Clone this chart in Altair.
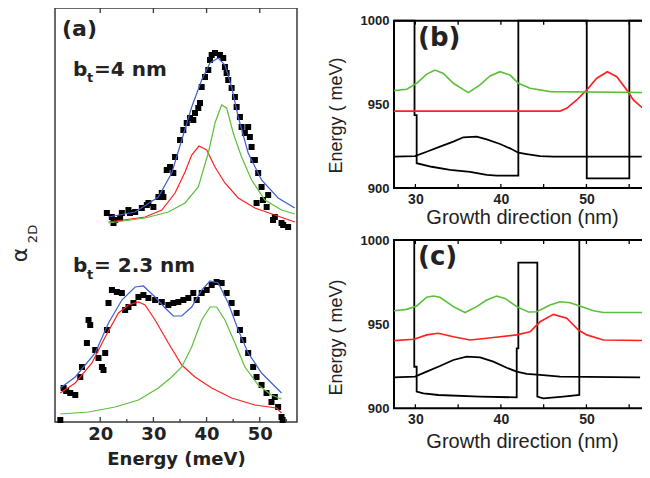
import altair as alt
import pandas as pd

# ---------------- Panel (a): absorption spectra (a.u.) ----------------
# b_t = 4 nm : measured points
a4_pts_E = [21.25, 22.19, 22.5, 22.81, 23.75, 24.07, 25.31, 25.6, 26.57, 27.82, 28.76, 29.06, 30.0,
            30.94, 31.58, 31.88, 32.51, 33.13, 33.75, 34.07, 35.01, 35.63, 36.27, 36.89, 37.5,
            37.82, 38.44, 38.76, 39.08, 39.7, 40.32, 40.64, 40.96, 41.58, 42.51, 43.13, 43.45,
            43.77, 44.07, 44.71, 45.33, 45.65, 46.27, 46.58, 47.2, 47.82, 48.14, 48.46, 48.8,
            49.08, 49.4, 49.7, 50.34, 50.6, 51.3, 51.58, 52.5, 52.83, 54.09, 54.4, 55.33]
a4_pts_v = [209, 205, 199, 202, 204, 209, 212, 209, 210, 214, 217, 219, 215,
            225, 229, 225, 252, 255, 249, 265, 282, 292, 299, 304, 302,
            309, 314, 319, 335, 345, 352, 362, 367, 369, 367, 364, 355,
            349, 342, 334, 325, 315, 305, 295, 289, 295, 285, 275, 262,
            262, 219, 249, 235, 222, 215, 227, 202, 205, 199, 197, 195]
# b_t = 4 nm : fitted peaks and their sum
a4_red_E = [21.56, 28.44, 31.58, 34.07, 35.95, 37.2, 38.57, 40.02, 41.58, 43.45, 45.95, 49.08, 52.83, 56.59]
a4_red_v = [200, 205, 212, 229, 250, 267, 276, 272, 255, 239, 224, 214, 207, 200]
a4_green_E = [21.56, 28.44, 32.81, 35.95, 38.44, 40.32, 41.58, 42.83, 43.77, 45.01, 46.58, 48.46, 50.96, 54.09, 56.59]
a4_green_v = [199, 204, 210, 219, 235, 269, 299, 317, 314, 289, 265, 242, 222, 212, 208]
a4_blue_E = [21.56, 26.57, 30.94, 33.45, 35.33, 37.2, 39.08, 40.64, 42.19, 43.45, 44.71, 45.95, 47.82, 50.34, 53.45, 56.59]
a4_blue_v = [205, 210, 225, 249, 282, 315, 342, 359, 364, 357, 335, 305, 269, 242, 224, 214]

# b_t = 2.3 nm : measured points
a23_pts_E = [12.5, 13.12, 13.6, 14.37, 15.31, 16.25, 16.57, 17.5, 17.81, 18.12, 19.06, 19.68, 20.32,
             20.62, 20.94, 21.26, 21.56, 22.2, 23.13, 24.07, 24.69, 25.31, 26.25, 27.19, 28.12,
             29.06, 30.32, 31.58, 32.81, 33.75, 34.69, 35.63, 36.57, 37.5, 38.14, 39.08, 40.02,
             40.96, 41.89, 42.83, 43.77, 44.71, 45.65, 46.27, 46.88, 47.82, 48.76, 49.39, 50.34,
             51.27, 52.2, 52.83, 53.45, 54.09, 54.3]
a23_pts_v = [2, 34, 31, 29, 27, 45, 55, 79, 102, 97, 72, 64, 55,
             52, 69, 92, 119, 132, 130, 129, 112, 115, 119, 125, 127,
             124, 122, 120, 117, 119, 120, 122, 124, 129, 122, 129, 132,
             137, 140, 139, 129, 119, 109, 92, 82, 69, 55, 45, 37,
             29, 20, 25, 15, 5, 2]
# b_t = 2.3 nm : fitted peaks and their sum
a23_red_E = [12.5, 15.31, 18.44, 20.94, 23.43, 25.31, 27.19, 28.44, 30.32, 32.81, 35.33, 37.82, 40.96, 44.71, 49.08, 53.15, 54.09]
a23_red_v = [29, 39, 59, 85, 109, 117, 120, 117, 102, 79, 57, 45, 34, 24, 17, 14, 9]
a23_green_E = [12.5, 17.81, 22.81, 27.19, 30.94, 33.45, 35.33, 37.2, 39.08, 40.64, 41.89, 43.45, 45.33, 47.2, 49.7, 52.2, 54.09]
a23_green_v = [8, 10, 15, 22, 34, 45, 55, 75, 102, 115, 115, 102, 79, 55, 37, 27, 23]
a23_blue_E = [12.5, 15.31, 19.06, 21.56, 24.07, 26.57, 28.12, 30.32, 32.2, 33.75, 35.33, 37.2, 39.08, 40.64, 42.19, 44.07, 45.95, 47.82, 50.34, 54.09]
a23_blue_v = [34, 45, 69, 99, 122, 135, 136, 125, 114, 106, 106, 115, 132, 141, 139, 119, 92, 69, 49, 29]

a_ticks_major = [20, 30, 40, 50]
a_ticks_minor = [25, 35, 45, 55]

# ---------------- Panel (b): b_t = 4 nm band profile (meV vs nm) ----------------
b_prof_z = [27.5, 29.9, 29.9, 30.15, 30.15, 31.9, 34.05, 36.39, 38.34, 39.51, 42.04, 42.04,
            50.04, 50.04, 55.02, 55.02, 57.6]
b_prof_e = [1000, 1000, 943.6, 943.6, 914.8, 912.7, 910.8, 909.7, 907.8, 907.4, 907.4, 1000,
            1000, 905.8, 905.8, 1000, 1000]
b_gs_z = [27.5, 29.96, 31.32, 32.88, 34.44, 35.61, 37.17, 38.34, 39.9, 41.07, 42.04, 43.02, 44.58, 46.14, 56.47]
b_gs_e = [918.7, 919.1, 921.7, 924.7, 927.7, 930.3, 930.7, 929.1, 926.3, 923.7, 921.1, 920.3, 919.1, 918.7, 918.7]
b_red_z = [27.5, 46.92, 47.7, 48.87, 50.04, 51.21, 52.45, 53.55, 54.72, 55.49, 56.47, 57.44]
b_red_e = [946.0, 946.0, 947.6, 952.6, 958.6, 965.6, 969.5, 966.5, 958.6, 952.6, 948.2, 946.0]
b_green_z = [27.5, 28.98, 30.15, 31.32, 32.3, 33.27, 34.44, 36.19, 37.56, 38.73, 39.9, 41.07, 42.04, 43.41, 45.75, 57.44]
b_green_e = [958.2, 959.0, 962.6, 968.1, 970.5, 968.5, 962.6, 957.0, 961.6, 967.0, 969.5, 967.5, 962.6, 959.6, 957.6, 957.0]

# ---------------- Panel (c): b_t = 2.3 nm band profile ----------------
c_prof_z = [27.5, 29.87, 29.87, 30.15, 30.15, 30.93, 32.68, 37.56, 41.85, 41.85, 42.04, 42.04,
            44.26, 44.26, 44.96, 47.3, 49.17, 49.17, 57.6]
c_prof_e = [1000, 1000, 924.7, 924.7, 909.9, 908.9, 907.9, 906.9, 906.5, 935.6, 935.6, 986.5,
            986.5, 906.9, 905.9, 906.9, 907.9, 1000, 1000]
c_gs_z = [27.5, 29.96, 31.32, 32.88, 34.44, 36.0, 37.56, 39.12, 40.68, 41.85, 43.02, 44.58, 46.92, 56.28]
c_gs_e = [918.4, 918.8, 921.8, 925.1, 928.7, 930.7, 930.3, 927.7, 924.1, 921.8, 920.4, 919.8, 918.8, 918.4]
c_red_z = [27.5, 29.86, 31.32, 32.68, 34.44, 36.39, 38.34, 39.9, 41.85, 43.41, 44.58, 46.14, 47.7, 49.07, 50.04, 51.99, 57.44]
c_red_e = [940.2, 941.0, 943.6, 944.6, 942.5, 940.6, 941.6, 942.5, 943.6, 945.5, 951.4, 955.8, 953.5, 946.5, 943.6, 940.6, 940.2]
c_green_z = [27.5, 28.98, 30.15, 31.32, 32.1, 32.88, 34.44, 35.81, 37.17, 38.34, 39.51, 40.49, 41.85,
             43.22, 44.19, 45.75, 46.92, 48.09, 49.65, 50.82, 51.99, 57.44]
c_green_e = [958.0, 958.8, 960.8, 966.0, 966.7, 966.0, 960.4, 956.9, 960.4, 964.3, 966.7, 965.3, 960.4,
             957.2, 957.4, 961.4, 963.3, 962.7, 960.0, 958.0, 956.9, 956.9]

bc_ticks = [30, 35, 40, 45, 50, 55]

RED, GREEN, BLUE, INK = "#ff2020", "#5cbf3c", "#3f5fc8", "#222222"
W, H = 634, 461


def long(curves, xn, yn):
    rows = []
    for name, (xs, ys) in curves.items():
        for i, (x, y) in enumerate(zip(xs, ys)):
            rows.append({xn: x, yn: y, "curve": name, "i": i})
    return pd.DataFrame(rows)


def label(txt, x, y, size, weight="bold", font="DejaVu Sans", angle=0, align="left", baseline="alphabetic"):
    kw = dict(font=font, fontSize=size, fontWeight=weight, color=INK, align=align, baseline=baseline)
    if angle:
        kw["angle"] = angle
    return alt.Chart(pd.DataFrame({"t": [txt]})).mark_text(**kw).encode(
        x=alt.value(x), y=alt.value(y), text="t:N")


# ---------------- panel (a) ----------------
xa_dom = [11.5, 57.0]
ya_dom = [0, 414]
xA = alt.X("E:Q", scale=alt.Scale(domain=xa_dom, range=[47, 289], nice=False, zero=False),
           axis=alt.Axis(orient="bottom", offset=414 - H, values=a_ticks_major, domain=False, ticks=False,
                         tickSize=0, grid=False, labelPadding=3, labelFont="DejaVu Sans",
                         labelFontWeight="bold", labelFontSize=18, labelColor=INK, labelFlush=False,
                         title="Energy (meV)", titleFont="DejaVu Sans", titleFontWeight="bold",
                         titleFontSize=18, titleColor=INK, titleY=42, titleBaseline="alphabetic"))
yA = alt.Y("v:Q", scale=alt.Scale(domain=ya_dom, range=[414, 0], nice=False, zero=False), axis=None)

a_curves = long({"s4": (a4_blue_E, a4_blue_v), "r4": (a4_red_E, a4_red_v), "g4": (a4_green_E, a4_green_v),
                 "s23": (a23_blue_E, a23_blue_v), "r23": (a23_red_E, a23_red_v),
                 "g23": (a23_green_E, a23_green_v)}, "E", "v")
a_pts = pd.DataFrame({"E": a4_pts_E + a23_pts_E, "v": a4_pts_v + a23_pts_v})
a_frame = pd.DataFrame({"E": [xa_dom[0]], "E2": [xa_dom[1]], "v": [ya_dom[0]], "v2": [ya_dom[1]]})

frameA = alt.Chart(a_frame).mark_rect(fill="transparent", stroke="#3a3a3a", strokeWidth=1.5).encode(
    x=xA, x2="E2", y=yA, y2="v2")
ptsA = alt.Chart(a_pts).mark_square(size=36, color="black", opacity=1).encode(x=xA, y=yA)
linesA = alt.Chart(a_curves).mark_line(strokeWidth=1.2).encode(
    x=xA, y=yA, detail="curve:N", order="i:Q",
    color=alt.Color("curve:N", legend=None,
                    scale=alt.Scale(domain=["s4", "r4", "g4", "s23", "r23", "g23"],
                                    range=[BLUE, RED, GREEN, BLUE, RED, GREEN])))
tmaj = pd.DataFrame({"E": a_ticks_major})
tmin = pd.DataFrame({"E": a_ticks_minor})
ticksA = alt.layer(
    alt.Chart(tmaj).mark_rule(color="#3a3a3a", strokeWidth=1.3).encode(x=xA, y=alt.value(414), y2=alt.value(409)),
    alt.Chart(tmin).mark_rule(color="#3a3a3a", strokeWidth=1.3).encode(x=xA, y=alt.value(414), y2=alt.value(411)),
    alt.Chart(tmaj).mark_rule(color="#3a3a3a", strokeWidth=1.3).encode(x=xA, y=alt.value(0), y2=alt.value(5)),
)
textA = alt.layer(
    label("(a)", 54, 28, 22),
    label("b", 65, 68, 20),
    label("t", 79, 74, 13),
    label("=4 nm", 86, 68, 20),
    label("b", 65, 264, 20),
    label("t", 79, 271, 13),
    label("= 2.3 nm", 86, 264, 20),
    label("\u03b1", 12, 247, 22, weight="normal", angle=270, align="center", baseline="middle"),
    label("2D", 25, 226, 13, weight="normal", angle=270, align="center", baseline="middle"),
)
panelA = alt.layer(frameA, ptsA, linesA, ticksA, textA)


# ---------------- panels (b), (c) ----------------
def band_panel(tag, prof, gs, red, green, y_top, y_bot, x_title_y, y_title_y):
    xdom = [27.5, 57.6]
    ydom = [900, 1000]
    xs = alt.X("z:Q", scale=alt.Scale(domain=xdom, range=[386, 643.4], nice=False, zero=False),
               axis=alt.Axis(orient="bottom", offset=y_bot - H, values=[30, 40, 50], domain=False,
                             ticks=False, tickSize=0, grid=False, labelPadding=4, format="d",
                             labelFont="Liberation Sans", labelFontWeight="bold", labelFontSize=14,
                             labelColor=INK, labelFlush=False, title="Growth direction (nm)",
                             titleFont="Liberation Sans", titleFontWeight="normal", titleFontSize=20,
                             titleColor=INK, titleX=514, titleY=x_title_y, titleBaseline="middle"))
    ys = alt.Y("e:Q", scale=alt.Scale(domain=ydom, range=[y_bot, y_top], nice=False, zero=False),
               axis=alt.Axis(orient="left", offset=-386, values=[900, 950, 1000], domain=False,
                             ticks=False, tickSize=0, grid=False, labelPadding=5, format="d",
                             labelFont="Liberation Sans", labelFontWeight="bold", labelFontSize=13,
                             labelColor=INK, labelFlush=False, title="Energy ( meV)",
                             titleFont="Liberation Sans", titleFontWeight="normal", titleFontSize=18,
                             titleColor=INK, titleX=-58, titleY=y_title_y, titleBaseline="middle",
                             titleAngle=270))
    curves = long({"prof": prof, "gs": gs, "red": red, "green": green}, "z", "e")
    frame = pd.DataFrame({"z": [xdom[0]], "z2": [xdom[1]], "e": [ydom[0]], "e2": [ydom[1]]})
    fr = alt.Chart(frame).mark_rect(fill="transparent", stroke="black", strokeWidth=2).encode(
        x=xs, x2="z2", y=ys, y2="e2")
    ln = alt.Chart(curves).mark_line().encode(
        x=xs, y=ys, detail="curve:N", order="i:Q",
        color=alt.Color("curve:N", legend=None,
                        scale=alt.Scale(domain=["prof", "gs", "red", "green"],
                                        range=["black", "black", RED, GREEN])),
        strokeWidth=alt.StrokeWidth("curve:N", legend=None,
                                    scale=alt.Scale(domain=["prof", "gs", "red", "green"],
                                                    range=[1.8, 1.6, 1.4, 1.4])))
    tk = pd.DataFrame({"z": bc_ticks})
    ticks = alt.layer(
        alt.Chart(tk).mark_rule(color="black", strokeWidth=1.3).encode(
            x=xs, y=alt.value(y_bot), y2=alt.value(y_bot - 4)),
        alt.Chart(tk).mark_rule(color="black", strokeWidth=1.3).encode(
            x=xs, y=alt.value(y_top), y2=alt.value(y_top + 4)),
    )
    txt = label(tag, 410, y_top + 25, 26)
    return alt.layer(fr, ln, ticks, txt)


panelB = band_panel("(b)", (b_prof_z, b_prof_e), (b_gs_z, b_gs_e), (b_red_z, b_red_e),
                    (b_green_z, b_green_e), 12.7, 180.0, 29.5, 107)
panelC = band_panel("(c)", (c_prof_z, c_prof_e), (c_gs_z, c_gs_e), (c_red_z, c_red_e),
                    (c_green_z, c_green_e), 232.0, 400.3, 32.7, 329)

chart = alt.layer(panelA, panelB, panelC).resolve_scale(
    x="independent", y="independent", color="independent", strokeWidth="independent"
).properties(
    width=W, height=H, padding=0, autosize=alt.AutoSizeParams(type="none"),
    view=alt.ViewBackground(stroke="transparent", strokeWidth=0)
).configure_view(strokeWidth=0, stroke="transparent", strokeOpacity=0).configure(background="white")

chart.save("out.html", embed_options={"renderer": "svg", "actions": False})
